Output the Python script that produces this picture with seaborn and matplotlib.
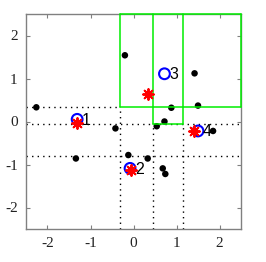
import matplotlib
matplotlib.use("Agg")
import matplotlib.pyplot as plt
import seaborn as sns
import pandas as pd

# data points
pts_x = [-0.20, -2.26, -0.42, -1.34, -0.12, 0.33, 0.68, 0.74, 1.42, 1.50, 0.88, 0.72, 0.54, 1.85]
pts_y = [1.54, 0.33, -0.16, -0.86, -0.78, -0.86, -1.09, -1.22, 1.12, 0.37, 0.32, 0.00, -0.11, -0.22]

# cluster centres (blue circles) and labels
cen_x = [-1.31, -0.08, 0.72, 1.50]
cen_y = [0.05, -1.09, 1.11, -0.22]
cen_lab = ["1", "2", "3", "4"]

# red asterisks
star_x = [-1.31, -0.05, 0.33, 1.40]
star_y = [-0.03, -1.12, 0.64, -0.22]

# partition segments: (x0, x1, y0, y1)
dotted_segs = [
    (-2.5, -0.32, 0.33, 0.33),
    (-2.5, 2.5, -0.05, -0.05),
    (-2.5, 2.5, -0.81, -0.81),
    (-0.32, -0.32, -2.5, 0.33),
    (0.46, 0.46, -2.5, -0.05),
    (1.14, 1.14, -2.5, -0.05),
]
green_segs = [
    (-0.32, 2.5, 0.33, 0.33),
    (-0.32, 2.5, 2.5, 2.5),
    (-0.32, -0.32, 0.33, 2.5),
    (2.5, 2.5, 0.33, 2.5),
    (0.46, 1.14, -0.05, -0.05),
    (0.46, 0.46, -0.05, 2.5),
    (1.14, 1.14, -0.05, 2.5),
]

xticks = [-2, -1, 0, 1, 2]
yticks = [-2, -1, 0, 1, 2]

sns.set_style("white")
plt.rcParams["font.family"] = ["Liberation Serif", "DejaVu Serif"]
plt.rcParams["axes.unicode_minus"] = False

fig = plt.figure(figsize=(2.66, 2.62), dpi=100)
ax = fig.add_axes([26 / 266, 33 / 262, 215 / 266, 215 / 262])

for x0, x1, y0, y1 in dotted_segs:
    ax.plot([x0, x1], [y0, y1], color="black", lw=1.0, ls=(0, (1, 3)), zorder=1)
for x0, x1, y0, y1 in green_segs:
    ax.plot([x0, x1], [y0, y1], color="#00ee00", lw=1.1, zorder=4, clip_on=False)

df_pts = pd.DataFrame({"x": pts_x, "y": pts_y})
sns.scatterplot(data=df_pts, x="x", y="y", ax=ax, color="black", s=22,
                edgecolor="none", zorder=3, legend=False)

df_cen = pd.DataFrame({"x": cen_x, "y": cen_y})
sns.scatterplot(data=df_cen, x="x", y="y", ax=ax, marker="o", s=60,
                facecolor="none", edgecolor="blue", linewidth=1.5, zorder=5, legend=False)

df_star = pd.DataFrame({"x": star_x, "y": star_y})
sns.scatterplot(data=df_star, x="x", y="y", ax=ax, marker=(8, 2, 0), s=60,
                color="red", edgecolor="red", linewidth=1.4, zorder=6, legend=False)

for x, y, t in zip(cen_x, cen_y, cen_lab):
    ax.text(x + 0.11, y - 0.02, t, ha="left", va="center", fontsize=11.5,
            family=["Liberation Sans", "DejaVu Sans"], color="black", zorder=7)

ax.set_xlim(-2.5, 2.5)
ax.set_ylim(-2.5, 2.5)
ax.set_xticks(xticks)
ax.set_yticks(yticks)
ax.set_xlabel("")
ax.set_ylabel("")
for s in ax.spines.values():
    s.set_color("#808080")
    s.set_linewidth(1.0)
ax.tick_params(direction="in", length=3, width=0.8, color="#808080",
               top=True, right=True, bottom=True, left=True,
               labelsize=11, labelcolor="#222222", pad=6)

fig.savefig("out.png", dpi=100)
